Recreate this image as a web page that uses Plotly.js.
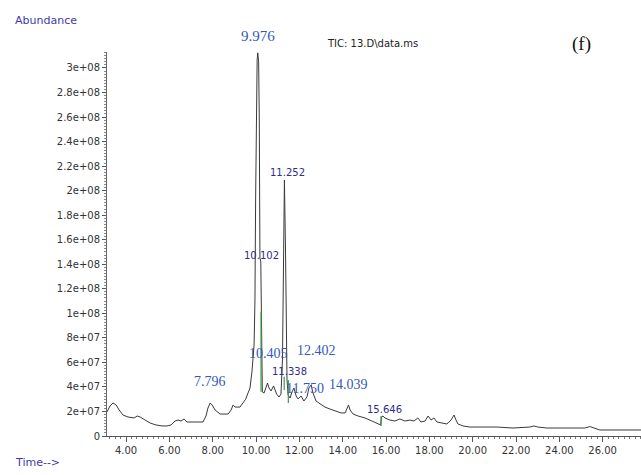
<!DOCTYPE html>
<html>
<head>
<meta charset="utf-8">
<script src="https://cdn.plot.ly/plotly-3.0.1.min.js"></script>
<style>html,body{margin:0;padding:0;background:#fff;}#chart{width:641px;height:475px;}</style>
</head>
<body>
<div id="chart"></div>
<script>
// Retention time (min) of the TIC trace
var rtTime = [3.12,3.26,3.40,3.54,3.68,3.86,4.09,4.37,4.51,4.65,4.88,5.11,5.38,5.66,5.89,6.08,6.26,6.40,6.54,6.68,6.81,7.18,7.55,7.69,7.78,7.88,7.97,8.11,8.34,8.71,8.85,8.94,9.03,9.26,9.40,9.52,9.72,9.81,9.91,9.95,9.98,10.01,10.05,10.08,10.12,10.15,10.17,10.18,10.22,10.25,10.27,10.29,10.37,10.46,10.53,10.60,10.69,10.81,10.95,11.06,11.15,11.22,11.27,11.31,11.36,11.41,11.43,11.48,11.57,11.66,11.75,11.85,11.94,12.08,12.21,12.35,12.44,12.54,12.63,12.77,12.95,13.18,13.41,13.69,13.92,14.11,14.20,14.27,14.34,14.48,14.71,15.03,15.35,15.63,15.75,15.79,15.86,15.95,16.18,16.41,16.64,16.87,17.11,17.29,17.47,17.61,17.80,17.94,18.08,18.21,18.35,18.58,18.81,19.00,19.14,19.23,19.32,19.55,19.87,20.34,21.12,21.86,22.64,22.83,23.01,23.43,24.35,25.18,25.41,25.64,25.87,26.80,27.77];
// Abundance of the TIC trace
var abundance = [19.6e6,24.5e6,26.9e6,25.3e6,21.2e6,17.1e6,15.5e6,14.7e6,16.3e6,15.5e6,13.0e6,10.6e6,9.0e6,8.2e6,8.2e6,9.0e6,12.2e6,13.0e6,12.2e6,13.9e6,11.4e6,11.4e6,11.4e6,16.3e6,22.8e6,26.9e6,25.3e6,21.2e6,17.9e6,17.9e6,21.2e6,25.3e6,23.6e6,23.6e6,26.9e6,30.0e6,39.1e6,52.2e6,74.2e6,110.9e6,192.4e6,274e6,306.6e6,312.3e6,305e6,257.6e6,176e6,145e6,141.9e6,110.9e6,62e6,35.9e6,35.0e6,40.8e6,43.2e6,39.1e6,36.7e6,40.8e6,34.2e6,31.8e6,34.2e6,62e6,151.6e6,208.7e6,151.6e6,53.8e6,45.7e6,33.4e6,31.0e6,35.9e6,39.1e6,32.6e6,30.2e6,32.6e6,28.5e6,31.8e6,39.1e6,41.6e6,35.0e6,28.5e6,26.1e6,23.6e6,22.0e6,20.4e6,18.8e6,18.8e6,22.8e6,25.3e6,21.2e6,17.9e6,16.3e6,14.7e6,12.2e6,9.8e6,9.0e6,15.5e6,16.3e6,14.7e6,13.0e6,12.2e6,13.9e6,12.2e6,13.0e6,12.2e6,14.7e6,11.4e6,12.2e6,16.3e6,13.0e6,14.7e6,11.4e6,10.6e6,9.8e6,13.0e6,17.1e6,13.0e6,9.8e6,8.2e6,7.3e6,7.3e6,7.3e6,6.5e6,7.3e6,8.2e6,7.3e6,6.5e6,6.5e6,6.5e6,7.7e6,6.5e6,4.9e6,4.9e6,4.9e6];

// Green integration marks: time, top, bottom
var markTime = [10.23, 11.30, 11.49, 15.77];
var markTop = [101.3e6, 48.3e6, 45.7e6, 16.3e6];
var markBottom = [36.1e6, 37.5e6, 26.9e6, 8.2e6];

// Peak labels
var serifLabels = ["10.405", "12.402", "7.796", "11.750", "14.039"];
var serifLabelTime = [10.58, 12.77, 7.88, 12.26, 14.27];
var serifLabelValue = [67.3e6, 70.1e6, 44.8e6, 39.1e6, 41.6e6];
var sansLabels = ["10.102", "11.252", "11.338", "15.646"];
var sansLabelTime = [10.25, 11.45, 11.55, 15.91];
var sansLabelValue = [146.8e6, 214.8e6, 52.6e6, 21.6e6];
var topLabel = "9.976";
var topLabelTime = 10.09;

// Axis tick labels
var yTickVals = [0,2e7,4e7,6e7,8e7,1e8,1.2e8,1.4e8,1.6e8,1.8e8,2e8,2.2e8,2.4e8,2.6e8,2.8e8,3e8];
var yTickText = ["0","2e+07","4e+07","6e+07","8e+07","1e+08","1.2e+08","1.4e+08","1.6e+08","1.8e+08","2e+08","2.2e+08","2.4e+08","2.6e+08","2.8e+08","3e+08"];

var mx = [], my = [];
for (var i = 0; i < markTime.length; i++) {
  mx.push(markTime[i], markTime[i], null);
  my.push(markTop[i], markBottom[i], null);
}

var traces = [
  {x: rtTime, y: abundance, type: 'scatter', mode: 'lines', line: {color: '#3a3a3a', width: 1}, hoverinfo: 'skip'},
  {x: mx, y: my, type: 'scatter', mode: 'lines', line: {color: '#3f9a3f', width: 1.2}, hoverinfo: 'skip', connectgaps: false}
];

var ann = [];
for (var j = 0; j < serifLabels.length; j++) {
  ann.push({x: serifLabelTime[j], y: serifLabelValue[j], xref: 'x', yref: 'y', text: serifLabels[j], showarrow: false,
    xanchor: 'center', yanchor: 'middle', font: {family: 'Liberation Serif', size: 14, color: '#3557c0'}});
}
for (var k = 0; k < sansLabels.length; k++) {
  ann.push({x: sansLabelTime[k], y: sansLabelValue[k], xref: 'x', yref: 'y', text: sansLabels[k], showarrow: false,
    xanchor: 'center', yanchor: 'middle', font: {family: 'DejaVu Sans', size: 10, color: '#2e2c8e'}});
}
ann.push({x: topLabelTime, y: 1.042, xref: 'x', yref: 'paper', text: topLabel, showarrow: false,
  xanchor: 'center', yanchor: 'middle', font: {family: 'Liberation Serif', size: 15, color: '#3557c0'}});
ann.push({x: 0.498, y: 1.021, xref: 'paper', yref: 'paper', text: 'TIC: 13.D\\data.ms', showarrow: false,
  xanchor: 'center', yanchor: 'middle', font: {family: 'DejaVu Sans', size: 10, color: '#222'}});
ann.push({x: 0.8895, y: 1.021, xref: 'paper', yref: 'paper', text: '(f)', showarrow: false,
  xanchor: 'center', yanchor: 'middle', font: {family: 'Liberation Serif', size: 19, color: '#111'}});
ann.push({x: -0.176, y: 1.081, xref: 'paper', yref: 'paper', text: 'Abundance', showarrow: false,
  xanchor: 'left', yanchor: 'middle', font: {family: 'DejaVu Sans', size: 11, color: '#3b3bb0'}});
ann.push({x: -0.176, y: -0.068, xref: 'paper', yref: 'paper', text: 'Time-->', showarrow: false,
  xanchor: 'left', yanchor: 'middle', font: {family: 'DejaVu Sans', size: 11, color: '#3b3bb0'}});

var layout = {
  width: 641, height: 475,
  margin: {l: 107, r: 0, t: 52, b: 39, pad: 0},
  paper_bgcolor: '#fff', plot_bgcolor: '#fff',
  showlegend: false,
  xaxis: {range: [3.12, 27.77], tickmode: 'linear', tick0: 0, dtick: 2, tickformat: '.2f',
    ticks: 'outside', ticklen: 5, tickcolor: '#555', showline: true, linecolor: '#555', linewidth: 1,
    showgrid: false, zeroline: false, tickfont: {family: 'DejaVu Sans', size: 10, color: '#333'},
    minor: {tickmode: 'linear', tick0: 0, dtick: 0.25, ticks: 'outside', ticklen: 2, tickcolor: '#777', showgrid: false}},
  yaxis: {range: [0, 3.13e8], tickmode: 'array', tickvals: yTickVals, ticktext: yTickText,
    ticks: 'outside', ticklen: 4, tickcolor: '#555', showline: true, linecolor: '#666', linewidth: 1,
    showgrid: false, zeroline: false, tickfont: {family: 'DejaVu Sans', size: 10, color: '#333'},
    minor: {tickmode: 'linear', tick0: 0, dtick: 2.5e6, ticks: 'outside', ticklen: 2, tickcolor: '#888', showgrid: false}},
  annotations: ann
};

Plotly.newPlot('chart', traces, layout, {displayModeBar: false, staticPlot: true});
</script>
</body>
</html>
